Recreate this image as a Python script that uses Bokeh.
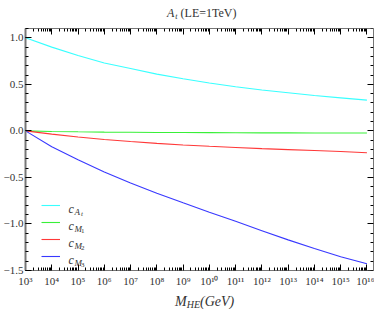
from bokeh.plotting import figure
from bokeh.layouts import column
from bokeh.models import (Range1d, LinearAxis, LogAxis, Label, Legend, LegendItem, Div,
                          FixedTicker, CustomJSTickFormatter, SingleIntervalTicker)
from bokeh.embed import file_html
from bokeh.resources import INLINE

# ---- data ----
mass = [1e3, 1e4, 1e5, 1e6, 1e7, 1e8, 1e9, 1e10, 1e11, 1e12, 1e13, 1e14, 1e15, 1e16]
c_At = [1.00, 0.90, 0.81, 0.73, 0.67, 0.61, 0.56, 0.515, 0.475, 0.44, 0.41, 0.38, 0.355, 0.33]
c_M1 = [0.0, -0.006, -0.010, -0.013, -0.015, -0.017, -0.018, -0.019, -0.020, -0.021, -0.021, -0.022, -0.022, -0.023]
c_M2 = [0.0, -0.035, -0.066, -0.092, -0.114, -0.134, -0.151, -0.165, -0.178, -0.191, -0.201, -0.211, -0.221, -0.235]
c_M3 = [0.0, -0.17, -0.31, -0.442, -0.561, -0.669, -0.772, -0.874, -0.972, -1.072, -1.171, -1.264, -1.352, -1.428]
series = [c_At, c_M1, c_M2, c_M3]
series_names = [("A", "t"), ("M", "1"), ("M", "2"), ("M", "3")]
colors = ["#22ffff", "#22ee22", "#ff2222", "#2222ff"]
x_major_ticks = [1e3, 1e4, 1e5, 1e6, 1e7, 1e8, 1e9, 1e10, 1e11, 1e12, 1e13, 1e14, 1e15, 1e16]
x_max = 10 ** 16.25
y_min, y_max = -1.5, 1.1
title_main, title_sub, title_rest = "A", "t", "(LE=1TeV)"
xlabel_main, xlabel_sub, xlabel_rest = "M", "HE", "(GeV)"

SERIF = "Liberation Serif"
TXT = "#333333"
W = 374

x_minor_ticks = [m * k for m in x_major_ticks + [1e17] for k in range(2, 10) if m * k < x_max]

p = figure(width=W, height=267, x_axis_type="log",
           x_range=Range1d(1e3, x_max), y_range=Range1d(y_min, y_max),
           output_backend="svg", toolbar_location=None,
           min_border_left=0, min_border_right=1, min_border_top=6, min_border_bottom=16)
p.grid.visible = False
p.outline_line_color = "#777777"
p.background_fill_color = "white"
p.border_fill_color = "white"

fmt_x = CustomJSTickFormatter(code="""
const sup = {'0':'\u2070','1':'\u00b9','2':'\u00b2','3':'\u00b3','4':'\u2074','5':'\u2075','6':'\u2076','7':'\u2077','8':'\u2078','9':'\u2079'};
const e = Math.round(Math.log10(tick)).toString();
let s = '10';
for (const ch of e) s += sup[ch];
return s;
""")
fmt_y = CustomJSTickFormatter(code="return tick.toFixed(1).replace('-', '\u2212');")
fmt_blank = CustomJSTickFormatter(code="return '';")


def style_axis(ax):
    ax.axis_line_color = "#777777"
    ax.axis_line_width = 1
    ax.major_tick_in = 6
    ax.major_tick_out = 0
    ax.minor_tick_in = 3
    ax.minor_tick_out = 0
    ax.major_tick_line_color = "black"
    ax.minor_tick_line_color = "black"
    ax.major_label_text_font = SERIF
    ax.major_label_text_font_size = "11px"
    ax.major_label_text_color = TXT
    ax.major_label_standoff = 3


xa = p.xaxis[0]
xa.ticker = FixedTicker(ticks=x_major_ticks, minor_ticks=x_minor_ticks)
xa.formatter = fmt_x
style_axis(xa)
xa.major_label_standoff = 4

ya = p.yaxis[0]
ya.ticker = SingleIntervalTicker(interval=0.5, num_minor_ticks=5)
ya.formatter = fmt_y
style_axis(ya)
ya.major_label_standoff = 2
ya.axis_line_width = 2

top = LogAxis(ticker=FixedTicker(ticks=x_major_ticks, minor_ticks=x_minor_ticks), formatter=fmt_blank,
              fixed_location=y_max)
style_axis(top)
top.major_label_text_font_size = "0px"
top.major_label_standoff = 0
p.add_layout(top, "above")

right = LinearAxis(ticker=SingleIntervalTicker(interval=0.5, num_minor_ticks=5), formatter=fmt_blank,
                   fixed_location=x_max)
style_axis(right)
right.major_label_text_font_size = "0px"
right.major_label_standoff = 0
p.add_layout(right, "right")

renderers = []
for vals, col in zip(series, colors):
    r = p.line(mass, vals, line_color=col, line_width=1.1, line_alpha=0.9)
    renderers.append(r)

legend = Legend(items=[LegendItem(label=" ", renderers=[r]) for r in renderers],
                location=(16, 8), glyph_width=19, glyph_height=12, label_height=12,
                spacing=5, padding=0, margin=0, border_line_color=None,
                background_fill_alpha=0, label_text_font_size="2px", label_standoff=0)
p.add_layout(legend, "center")

# legend texts c_{A_t}, c_{M_i}  (frame-relative screen coordinates)
row_y = [65, 48, 31, 14]
for (main, sub), yy in zip(series_names, row_y):
    p.add_layout(Label(x=43, y=yy - 3, x_units="screen", y_units="screen", text="c",
                       text_font=SERIF, text_font_style="italic", text_font_size="12px",
                       text_color=TXT, text_baseline="alphabetic"))
    p.add_layout(Label(x=49, y=yy - 6, x_units="screen", y_units="screen", text=main,
                       text_font=SERIF, text_font_style="italic", text_font_size="9px",
                       text_color=TXT, text_baseline="alphabetic"))
    p.add_layout(Label(x=55.5, y=yy - 8, x_units="screen", y_units="screen", text=sub,
                       text_font=SERIF, text_font_style="italic" if sub == "t" else "normal",
                       text_font_size="7px", text_color=TXT, text_baseline="alphabetic"))

title_div = Div(width=W, height=12, text=(
    f"<div style=\"font-family:'{SERIF}';font-size:12px;line-height:12px;color:{TXT};"
    f"padding-left:162px;white-space:nowrap\"><i>{title_main}</i>"
    f"<span style=\"font-size:8px;line-height:8px;font-style:italic;position:relative;top:2px;margin-left:1px\">{title_sub}</span>"
    f" {title_rest}</div>"))

xlabel_div = Div(width=W, height=14, text=(
    f"<div style=\"font-family:'{SERIF}';font-size:14px;line-height:14px;color:{TXT};"
    f"padding-left:170px;white-space:nowrap;font-style:italic\">{xlabel_main}"
    f"<span style=\"font-size:10px;line-height:10px;position:relative;top:2px\">{xlabel_sub}</span>"
    f"{xlabel_rest}</div>"))

layout = column(title_div, p, xlabel_div, spacing=0)

open("out.html", "w").write(file_html(layout, INLINE))
